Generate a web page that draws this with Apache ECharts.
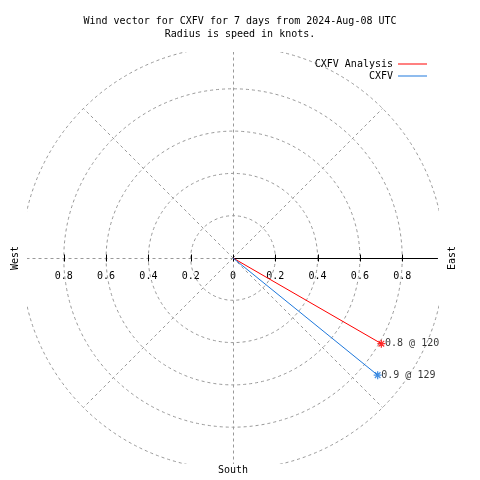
<!DOCTYPE html>
<html><head><meta charset="utf-8">
<script src="https://cdn.jsdelivr.net/npm/echarts@6/dist/echarts.min.js"></script>
<style>html,body{margin:0;padding:0;background:#fff}#c{width:480px;height:480px}</style>
</head><body><div id="c"></div>
<script>
// ---- data ----
const titleLines = ['Wind vector for CXFV for 7 days from 2024-Aug-08 UTC', 'Radius is speed in knots.'];
const seriesNames = ['CXFV Analysis', 'CXFV'];
const speeds = [0.81, 0.88];
const directions = [120, 129];
const speedLabels = ['0.8', '0.9'];
const ringValues = [0.2, 0.4, 0.6, 0.8, 1.0];
const spokeAngles = [45, 135, 225, 315];
const dashedRays = [0, 180, 270];
const solidRays = [90];
const tickValues = [-0.8, -0.6, -0.4, -0.2, 0, 0.2, 0.4, 0.6, 0.8];
const compassNames = ['West', 'East', 'South'];
const colors = ['#ff0000', '#1e78dc'];

const FONT = '"DejaVu Sans Mono", "Liberation Mono", monospace';
const R = 0.974;
const GRID = {left: 27, top: 52, width: 412, height: 412};
const toXY = (s, dir) => [s * Math.sin(dir * Math.PI / 180), s * Math.cos(dir * Math.PI / 180)];
const DASH = {stroke: '#999999', lineWidth: 1, lineDash: [3, 3], fill: null};

const chart = echarts.init(document.getElementById('c'), null, {renderer: 'canvas'});

function rayItem(style, len) {
  return function (params, api) {
    const c = api.coord([0, 0]);
    const e = api.coord(toXY(len, api.value(0)));
    return {type: 'line', shape: {x1: c[0], y1: c[1], x2: e[0], y2: e[1]}, style: style, silent: true};
  };
}

const series = [
  {
    type: 'custom', name: 'rings', clip: true, silent: true, z: 1,
    data: ringValues.map(v => [v, 0]),
    renderItem: (params, api) => {
      const c = api.coord([0, 0]);
      const e = api.coord([api.value(0), 0]);
      return {type: 'circle', shape: {cx: c[0], cy: c[1], r: e[0] - c[0]}, style: DASH};
    }
  },
  {
    type: 'custom', name: 'spokes', clip: true, silent: true, z: 1,
    data: spokeAngles.map(a => [a, 0]),
    renderItem: rayItem(DASH, 1.0)
  },
  {
    type: 'custom', name: 'dashedRays', clip: true, silent: true, z: 1,
    data: dashedRays.map(a => [a, 0]),
    renderItem: (params, api) => {
      const c = api.coord([0, 0]);
      const e = api.coord(toXY(2, api.value(0)));
      const cx = Math.round(c[0]) + 0.5, cy = Math.round(c[1]) + 0.5;
      const ex = Math.abs(e[0] - c[0]) < 1 ? cx : e[0];
      const ey = Math.abs(e[1] - c[1]) < 1 ? cy : e[1];
      return {type: 'line', shape: {x1: cx, y1: cy, x2: ex, y2: ey}, style: DASH};
    }
  },
  {
    type: 'custom', name: 'solidRays', clip: true, silent: true, z: 2,
    data: solidRays.map(a => [a, 0]),
    renderItem: (params, api) => {
      const c = api.coord([0, 0]);
      const e = api.coord([R - 0.005, 0]);
      const y = Math.round(c[1]) + 0.5;
      return {type: 'line', shape: {x1: c[0], y1: y, x2: e[0], y2: y}, style: {stroke: '#000', lineWidth: 1}};
    }
  },
  {
    type: 'custom', name: 'ticks', clip: false, silent: true, z: 3,
    data: tickValues.map(v => [v, 0]),
    renderItem: (params, api) => {
      const p = api.coord([api.value(0), 0]);
      const x = Math.round(p[0]) + 0.5;
      return {type: 'line', shape: {x1: x, y1: p[1] - 3.5, x2: x, y2: p[1] + 3.5}, style: {stroke: '#000', lineWidth: 1}};
    }
  }
];

seriesNames.forEach((name, i) => {
  series.push({
    type: 'line', name: name, z: 5,
    data: [[0, 0], toXY(speeds[i], directions[i])],
    showSymbol: false, symbol: 'none',
    itemStyle: {color: colors[i]},
    lineStyle: {color: colors[i], width: 1},
    animation: false
  });
  series.push({
    type: 'scatter', name: name + ' end', z: 6,
    data: [toXY(speeds[i], directions[i])],
    symbol: 'path://M5,0L5,10M0,5L10,5M1.5,1.5L8.5,8.5M8.5,1.5L1.5,8.5',
    symbolSize: 8,
    itemStyle: {color: 'rgba(0,0,0,0)', borderColor: colors[i], borderWidth: 1.3},
    label: {
      show: true, position: 'right', distance: -1,
      formatter: speedLabels[i] + ' @ ' + directions[i],
      fontFamily: FONT, fontSize: 10, color: '#000'
    },
    animation: false
  });
});

const option = {
  backgroundColor: '#fff',
  animation: false,
  title: {
    text: titleLines.join('\n'), left: 'center', top: 10,
    textStyle: {fontFamily: FONT, fontSize: 10, fontWeight: 'normal', color: '#000', lineHeight: 13}
  },
  legend: {
    orient: 'vertical', right: 48, top: 53, align: 'right',
    itemWidth: 29, itemHeight: 1, itemGap: 0, icon: 'rect',
    selectedMode: false,
    data: seriesNames,
    textStyle: {fontFamily: FONT, fontSize: 10, color: '#000', lineHeight: 12}
  },
  grid: GRID,
  xAxis: {
    type: 'value', min: -R, max: R, position: 'bottom', offset: -206,
    axisLine: {show: false}, axisTick: {show: false}, splitLine: {show: false},
    axisLabel: {
      show: true, customValues: tickValues, margin: 13,
      formatter: v => String(Math.abs(Math.round(v * 10) / 10)),
      fontFamily: FONT, fontSize: 10, color: '#000'
    }
  },
  yAxis: {
    type: 'value', min: -R, max: R, show: false
  },
  graphic: [
    {type: 'text', x: 15, y: 258, rotation: Math.PI / 2,
     style: {text: compassNames[0], font: '10px ' + FONT, fill: '#000', align: 'center', verticalAlign: 'middle'}},
    {type: 'text', x: 452, y: 258, rotation: Math.PI / 2,
     style: {text: compassNames[1], font: '10px ' + FONT, fill: '#000', align: 'center', verticalAlign: 'middle'}},
    {type: 'text', x: 233, y: 470,
     style: {text: compassNames[2], font: '10px ' + FONT, fill: '#000', align: 'center', verticalAlign: 'middle'}}
  ],
  series: series
};
chart.setOption(option);
</script>
</body></html>
